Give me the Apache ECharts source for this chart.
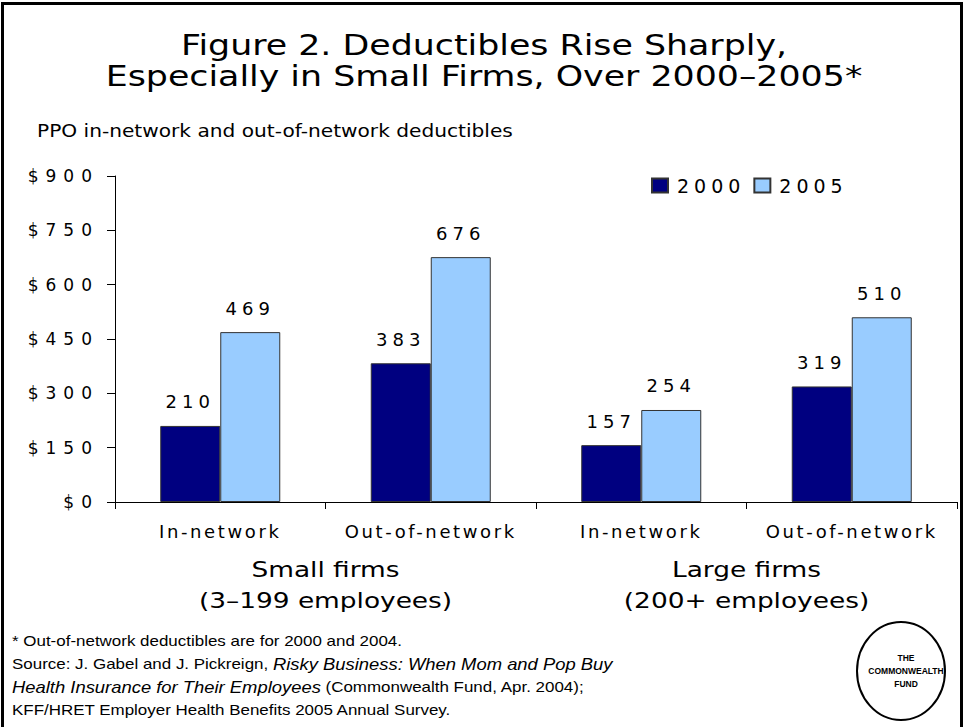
<!DOCTYPE html>
<html>
<head>
<meta charset="utf-8">
<script src="https://cdn.jsdelivr.net/npm/echarts@6/dist/echarts.min.js"></script>
<style>
    html, body { margin: 0; padding: 0; background: #fff; }
    #chart { width: 966px; height: 727px; }
    /* the slide is drawn wide: spread the numbers and the axis words a bit */
    #chart text[style*="Verdana"], #chart text[font-family*="Verdana"] { letter-spacing: 5px; }
    #chart text[style*="Geneva"], #chart text[font-family*="Geneva"] { letter-spacing: 7px; }
    #chart text[style*="Tahoma"], #chart text[font-family*="Tahoma"] { letter-spacing: 2.6px; }
</style>
</head>
<body>
<div id="chart"></div>
<script>
var categories = ['In-network', 'Out-of-network', 'In-network', 'Out-of-network']
var firmGroups = ['Small firms', 'Large firms']
var firmSizes = ['(3–199 employees)', '(200+ employees)']
var years = ['2000', '2005']
var values2000 = [210, 383, 157, 319]
var values2005 = [469, 676, 254, 510]
var yMin = 0, yMax = 900, yStep = 150

var numFont = 'Verdana, "DejaVu Sans", sans-serif'
var tickFont = 'Geneva, "DejaVu Sans", sans-serif'
var wordFont = 'Tahoma, "DejaVu Sans", sans-serif'
var plainFont = '"DejaVu Sans", sans-serif'
var noteFont = '"Liberation Sans", Arial, sans-serif'

var chart = echarts.init(document.getElementById('chart'), null, {renderer: 'svg'})

function barSeries(name, data, color) {
    return {
        name: name,
        type: 'bar',
        data: data,
        barWidth: 60,
        barGap: '0%',
        itemStyle: {color: color, borderColor: '#333', borderWidth: 1},
        label: {
            show: true,
            position: 'top',
            distance: 15,
            color: '#000',
            fontSize: 18,
            fontFamily: numFont
        }
    }
}

var option = {
    backgroundColor: '#fff',
    animation: false,
    grid: {left: 115, right: 9, top: 176, bottom: 225},
    legend: {
        data: years,
        left: 646,
        top: 171,
        itemWidth: 16,
        itemHeight: 14,
        itemGap: 28,
        icon: 'rect',
        textStyle: {color: '#000', fontSize: 19, fontFamily: numFont, padding: [0, 0, 0, 4]}
    },
    xAxis: {
        type: 'category',
        data: categories,
        axisLine: {lineStyle: {color: '#000', width: 1}},
        axisTick: {show: true, length: 7, lineStyle: {color: '#000'}},
        axisLabel: {color: '#000', fontSize: 18, fontFamily: wordFont, margin: 20, interval: 0}
    },
    yAxis: {
        type: 'value',
        min: yMin,
        max: yMax,
        interval: yStep,
        axisLine: {show: true, lineStyle: {color: '#000', width: 1}},
        axisTick: {show: true, length: 8, lineStyle: {color: '#000'}},
        splitLine: {show: false},
        axisLabel: {
            color: '#000',
            fontSize: 17,
            fontFamily: tickFont,
            margin: 16,
            formatter: function (v) { return '$' + v }
        }
    },
    series: [
        barSeries(years[0], values2000, '#000080'),
        barSeries(years[1], values2005, '#99CCFF')
    ]
}

chart.setOption(option)

function centered(text, x, y, size) {
    return {
        type: 'text', x: x, y: y, scaleX: 1.2,
        style: {text: text, fontSize: size, fontFamily: plainFont, fill: '#000',
            align: 'center', textAlign: 'center', verticalAlign: 'middle', textVerticalAlign: 'middle'}
    }
}

var graphics = [
    {
        type: 'rect',
        shape: {x: 2.5, y: 3.5, width: 959, height: 760},
        style: {fill: 'none', stroke: '#000', lineWidth: 3},
        silent: true
    },
    centered('Figure 2. Deductibles Rise Sharply,', 484, 45, 29),
    centered('Especially in Small Firms, Over 2000–2005*', 484, 76, 29),
    {
        type: 'text', x: 37, y: 131, scaleX: 1.2,
        style: {text: 'PPO in-network and out-of-network deductibles', fontSize: 16.8, fontFamily: plainFont,
            fill: '#000', align: 'left', textAlign: 'left', verticalAlign: 'middle', textVerticalAlign: 'middle'}
    }
]

// group captions sit under each pair of categories
for (var g = 0; g < firmGroups.length; g++) {
    var x0 = chart.convertToPixel({xAxisIndex: 0}, g * 2)
    var x1 = chart.convertToPixel({xAxisIndex: 0}, g * 2 + 1)
    var cx = (x0 + x1) / 2
    graphics.push(centered(firmGroups[g], cx, 569, 22))
    graphics.push(centered(firmSizes[g], cx, 600, 22))
}

var noteLines = [
    '* Out-of-network deductibles are for 2000 and 2004.',
    'Source: J. Gabel and J. Pickreign, {i|Risky Business: When Mom and Pop Buy}',
    '{i|Health Insurance for Their Employees} (Commonwealth Fund, Apr. 2004);',
    'KFF/HRET Employer Health Benefits 2005 Annual Survey.'
]
var noteChildren = noteLines.map(function (line, i) {
    return {
        type: 'text', x: 0, y: 641 + i * 23,
        style: {
            text: line, fontSize: 15, fontFamily: noteFont, fill: '#000',
            align: 'left', textAlign: 'left', verticalAlign: 'middle', textVerticalAlign: 'middle',
            rich: {i: {fontSize: 16.3, fontFamily: noteFont, fontStyle: 'italic', fill: '#000', color: '#000'}}
        }
    }
})
graphics.push({type: 'group', x: 12, y: 0, scaleX: 1.13, children: noteChildren})

// logo
graphics.push({
    type: 'ellipse',
    shape: {cx: 901, cy: 671, rx: 44, ry: 49},
    style: {fill: '#fff', stroke: '#000', lineWidth: 2}
})
var logoLines = ['THE', 'COMMONWEALTH', 'FUND']
logoLines.forEach(function (t, i) {
    graphics.push({
        type: 'text', x: 906, y: 658 + i * 13,
        style: {text: t, fontSize: 8.5, fontWeight: 'bold', fontFamily: noteFont, fill: '#000',
            align: 'center', textAlign: 'center', verticalAlign: 'middle', textVerticalAlign: 'middle'}
    })
})

chart.setOption({graphic: {elements: graphics}})
</script>
</body>
</html>
